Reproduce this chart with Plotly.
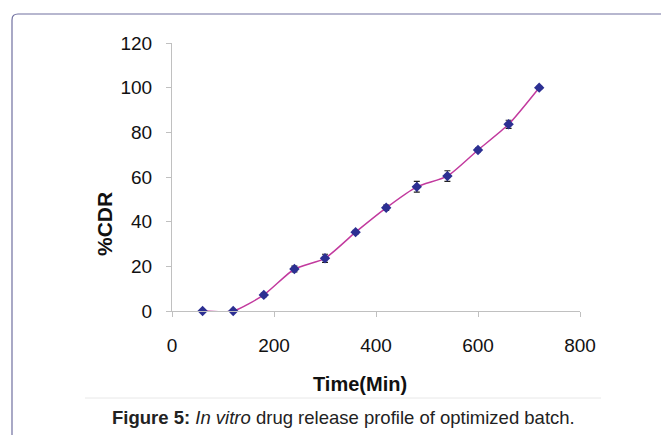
import plotly.graph_objects as go

time_min = [60, 120, 180, 240, 300, 360, 420, 480, 540, 600, 660, 720]
cdr = [0, 0, 7.2, 18.8, 23.6, 35.3, 46.2, 55.6, 60.4, 72.1, 83.6, 100]
cdr_err = [0.5, 0.5, 0.8, 1.3, 1.8, 0.8, 1.2, 2.4, 2.4, 0.8, 1.8, 0.6]
x_ticks = [0, 200, 400, 600, 800]
y_ticks = [0, 20, 40, 60, 80, 100, 120]

O = 8  # page body margin
PW, PH = 669, 435
W, H = PW - O, PH - O
# plot area in page pixels
L, R, T, B = 172, 580, 43, 311

def px(x):
    return (x - L) / (R - L)

def py(y):
    return (B - y) / (B - T)

fig = go.Figure()
fig.add_trace(go.Scatter(
    x=time_min, y=cdr, mode="lines+markers",
    line=dict(color="#c23a9e", width=1.5, shape="spline", smoothing=0.6),
    marker=dict(symbol="diamond", size=8, color="#2c2f92"),
    error_y=dict(type="data", array=cdr_err, visible=True, color="#222222",
                 thickness=1.2, width=3),
    showlegend=False, cliponaxis=False,
))

fig.update_layout(
    width=W, height=H,
    margin=dict(l=L - O, r=PW - R, t=T - O, b=PH - B),
    paper_bgcolor="white", plot_bgcolor="white",
    font=dict(family="Liberation Sans, Arial, sans-serif", color="#111111"),
    xaxis=dict(range=[0, 800], tickvals=x_ticks, showgrid=False, zeroline=False,
               showline=True, linecolor="#c0c0c0", linewidth=1,
               ticks="outside", ticklen=5, tickcolor="#c0c0c0",
               tickfont=dict(size=19, color="#111111"), ticklabelstandoff=12),
    yaxis=dict(range=[0, 120], tickvals=y_ticks, showgrid=False, zeroline=False,
               showline=True, linecolor="#c0c0c0", linewidth=1,
               ticks="outside", ticklen=5, tickcolor="#c0c0c0",
               tickfont=dict(size=19, color="#111111"), ticklabelstandoff=10),
)

fig.add_annotation(text="<b>Time(Min)</b>", xref="paper", yref="paper",
                   x=px(360), y=py(384), showarrow=False,
                   font=dict(size=20, color="#111111"), xanchor="center", yanchor="middle")
fig.add_annotation(text="<b>%CDR</b>", xref="paper", yref="paper",
                   x=px(104), y=py(224), showarrow=False, textangle=-90,
                   font=dict(size=21, color="#111111"), xanchor="center", yanchor="middle")
fig.add_annotation(text="<b>Figure 5:</b> <i>In vitro</i> drug release profile of optimized batch.",
                   xref="paper", yref="paper", x=px(343), y=py(417), showarrow=False,
                   font=dict(size=18.5, color="#222222"), xanchor="center", yanchor="middle")

# faint separator line
fig.add_shape(type="line", xref="paper", yref="paper",
              x0=px(85), x1=px(601), y0=py(398), y1=py(398),
              line=dict(color="#e8e8e8", width=1))
# frame border with rounded top-left corner
r = 6
path = (f"M {px(12)} {py(PH + 5)} L {px(12)} {py(14 + r)} "
        f"Q {px(12)} {py(14)} {px(12 + r)} {py(14)} L {px(PW + 5)} {py(14)}")
fig.add_shape(type="path", xref="paper", yref="paper", path=path,
              line=dict(color="#7070a0", width=1.2))

fig.write_html("out.html")
